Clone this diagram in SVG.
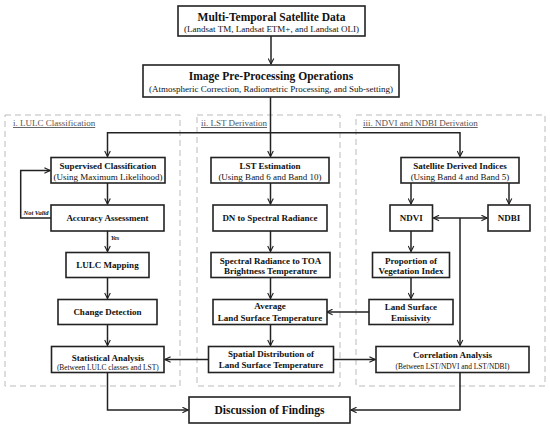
<svg xmlns="http://www.w3.org/2000/svg" width="550" height="427" viewBox="0 0 550 427">
<style>
text{font-family:"Liberation Serif","Times New Roman",serif;fill:#111;text-anchor:middle}
.b{font-weight:bold;font-size:9px}
.r{font-size:9px}
.s{font-size:7.4px}
.t{font-weight:bold;font-size:11.5px}
.lab{font-size:9px;fill:#555;text-anchor:start;text-decoration:underline}
.it{font-style:italic;font-weight:bold;font-size:6.5px}
.box{fill:#fff;stroke:#222;stroke-width:1.6}
.panel{fill:none;stroke:#bbb;stroke-width:1;stroke-dasharray:6 4}
.c{fill:none;stroke:#222;stroke-width:1.5}
</style>
<defs>
<marker id="ah" viewBox="0 0 10 10" refX="9" refY="5" markerWidth="7" markerHeight="7" markerUnits="userSpaceOnUse" orient="auto-start-reverse">
<path d="M1,1 L9,5 L1,9" fill="none" stroke="#222" stroke-width="1.6"/>
</marker>
</defs>
<rect width="550" height="427" fill="#fff"/>
<g id="panels">
<rect class="panel" x="5" y="115" width="175" height="271"/>
<rect class="panel" x="197" y="115" width="143" height="271"/>
<rect class="panel" x="356" y="115" width="189" height="271"/>
<text class="lab" x="13" y="126">i. LULC Classification</text>
<text class="lab" x="201" y="126">ii. LST Derivation</text>
<text class="lab" x="363" y="126">iii. NDVI and NDBI Derivation</text>
</g>
<g id="connectors">
<line class="c" x1="271" y1="36" x2="271" y2="64" marker-end="url(#ah)"/>
<line class="c" x1="270.5" y1="97" x2="270.5" y2="156.5" marker-end="url(#ah)"/>
<polyline class="c" points="107.5,156.5 107.5,132.7 460,132.7 460,156.5" marker-start="url(#ah)" marker-end="url(#ah)"/>
<line class="c" x1="107.5" y1="183" x2="107.5" y2="204" marker-end="url(#ah)"/>
<polyline class="c" points="51,218 20.7,218 20.7,170.5 50,170.5" marker-end="url(#ah)"/>
<line class="c" x1="107.5" y1="231" x2="107.5" y2="251.5" marker-end="url(#ah)"/>
<line class="c" x1="107.5" y1="277.5" x2="107.5" y2="298.5" marker-end="url(#ah)"/>
<line class="c" x1="107.5" y1="324.5" x2="107.5" y2="345.5" marker-end="url(#ah)"/>
<line class="c" x1="270.5" y1="183" x2="270.5" y2="204" marker-end="url(#ah)"/>
<line class="c" x1="270.5" y1="231" x2="270.5" y2="251.5" marker-end="url(#ah)"/>
<line class="c" x1="270.5" y1="277.5" x2="270.5" y2="298.5" marker-end="url(#ah)"/>
<line class="c" x1="270.5" y1="324.5" x2="270.5" y2="345.5" marker-end="url(#ah)"/>
<line class="c" x1="411" y1="183" x2="411" y2="204" marker-end="url(#ah)"/>
<line class="c" x1="509" y1="183" x2="509" y2="204" marker-end="url(#ah)"/>
<line class="c" x1="433.5" y1="218" x2="487" y2="218" marker-start="url(#ah)" marker-end="url(#ah)"/>
<line class="c" x1="460" y1="218" x2="460" y2="345.5" marker-end="url(#ah)"/>
<line class="c" x1="411" y1="231" x2="411" y2="251.5" marker-end="url(#ah)"/>
<line class="c" x1="411" y1="277.5" x2="411" y2="298.5" marker-end="url(#ah)"/>
<line class="c" x1="369" y1="312" x2="327" y2="312" marker-end="url(#ah)"/>
<line class="c" x1="208.5" y1="359.5" x2="165" y2="359.5" marker-end="url(#ah)"/>
<line class="c" x1="333.5" y1="359.5" x2="375" y2="359.5" marker-end="url(#ah)"/>
<polyline class="c" points="107.5,372.5 107.5,410 188,410" marker-end="url(#ah)"/>
<polyline class="c" points="460,372.5 460,410 351,410" marker-end="url(#ah)"/>
<text class="it" x="36" y="215">Not Valid</text>
<text class="it" x="115" y="240">Yes</text>
</g>
<g id="n-data">
<rect class="box" x="178" y="6" width="187" height="30"/>
<text class="t" x="271.5" y="20.5">Multi-Temporal Satellite Data</text>
<text class="r" x="271.5" y="31.5">(Landsat TM, Landsat ETM+, and Landsat OLI)</text>
</g>
<g id="n-pre">
<rect class="box" x="143" y="65" width="256" height="32"/>
<text class="t" x="271" y="80">Image Pre-Processing Operations</text>
<text class="r" x="271" y="91.5">(Atmospheric Correction, Radiometric Processing, and Sub-setting)</text>
</g>
<g id="n-sup">
<rect class="box" x="51" y="157.5" width="114" height="25.5"/>
<text class="b" x="108" y="168.5">Supervised Classification</text>
<text class="r" x="108" y="179.5">(Using Maximum Likelihood)</text>
</g>
<g id="n-acc">
<rect class="box" x="51" y="205" width="113" height="26"/>
<text class="b" x="107.5" y="221">Accuracy Assessment</text>
</g>
<g id="n-lulc">
<rect class="box" x="66" y="252.5" width="83" height="25"/>
<text class="b" x="107.5" y="268">LULC Mapping</text>
</g>
<g id="n-change">
<rect class="box" x="58" y="299.5" width="99" height="25"/>
<text class="b" x="107.5" y="315">Change Detection</text>
</g>
<g id="n-stat">
<rect class="box" x="51.5" y="346.5" width="112.5" height="26"/>
<text class="b" x="107.8" y="360.5">Statistical Analysis</text>
<text class="s" x="107.8" y="369.8">(Between LULC classes and LST)</text>
</g>
<g id="n-lst">
<rect class="box" x="211" y="157.5" width="118" height="25.5"/>
<text class="b" x="270" y="168.5">LST Estimation</text>
<text class="r" x="270" y="179.5">(Using Band 6 and Band 10)</text>
</g>
<g id="n-dn">
<rect class="box" x="213" y="205" width="114" height="26"/>
<text class="b" x="270" y="221">DN to Spectral Radiance</text>
</g>
<g id="n-toa">
<rect class="box" x="211" y="252.5" width="119" height="25"/>
<text class="b" x="270.5" y="263.5">Spectral Radiance to TOA</text>
<text class="b" x="270.5" y="274">Brightness Temperature</text>
</g>
<g id="n-avg">
<rect class="box" x="213" y="299.5" width="114" height="25"/>
<text class="b" x="270" y="309">Average</text>
<text class="b" x="270" y="320.5">Land Surface Temperature</text>
</g>
<g id="n-spatial">
<rect class="box" x="208.5" y="346.5" width="125" height="26"/>
<text class="b" x="271" y="356.5">Spatial Distribution of</text>
<text class="b" x="271" y="368">Land Surface Temperature</text>
</g>
<g id="n-sat">
<rect class="box" x="401" y="157.5" width="118" height="25.5"/>
<text class="b" x="460" y="168.5">Satellite Derived Indices</text>
<text class="r" x="460" y="179.5">(Using Band 4 and Band 5)</text>
</g>
<g id="n-ndvi">
<rect class="box" x="390" y="205" width="42.5" height="26"/>
<text class="b" x="411.2" y="221">NDVI</text>
</g>
<g id="n-ndbi">
<rect class="box" x="488" y="205" width="42" height="26"/>
<text class="b" x="509" y="221">NDBI</text>
</g>
<g id="n-pvi">
<rect class="box" x="372.5" y="252.5" width="77" height="25"/>
<text class="b" x="411" y="263.5">Proportion of</text>
<text class="b" x="411" y="274">Vegetation Index</text>
</g>
<g id="n-lse">
<rect class="box" x="369" y="299.5" width="84" height="25"/>
<text class="b" x="411" y="310">Land Surface</text>
<text class="b" x="411" y="320.5">Emissivity</text>
</g>
<g id="n-corr">
<rect class="box" x="376" y="346.5" width="153" height="26"/>
<text class="b" x="452.5" y="358">Correlation Analysis</text>
<text class="s" x="452.5" y="368.5">(Between LST/NDVI and LST/NDBI)</text>
</g>
<g id="n-disc">
<rect class="box" x="189" y="397" width="161" height="26"/>
<text class="t" x="269.5" y="414">Discussion of Findings</text>
</g>
</svg>
